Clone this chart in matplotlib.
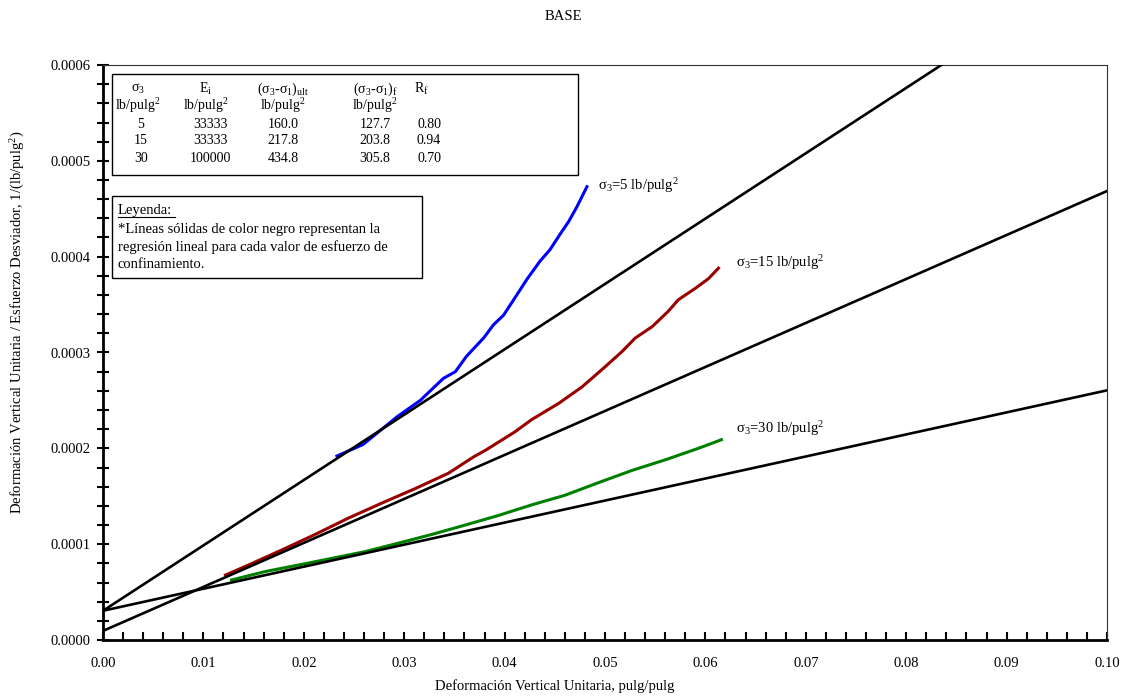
import numpy as np
import matplotlib
matplotlib.use('Agg')
import matplotlib.pyplot as plt
from matplotlib.patches import Rectangle
from matplotlib.lines import Line2D
from matplotlib.ticker import MultipleLocator, FormatStrFormatter

plt.rcParams['font.family'] = ['Liberation Serif', 'DejaVu Serif']
plt.rcParams['mathtext.fontset'] = 'custom'
plt.rcParams['mathtext.rm'] = 'Liberation Serif'
plt.rcParams['mathtext.it'] = 'Liberation Serif:italic'
plt.rcParams['font.size'] = 10.5

# ensayo sigma3 = 5
x5 = [0.0233, 0.0259, 0.0293, 0.0316, 0.0339, 0.0351, 0.0362, 0.0379, 0.0389,
      0.0399, 0.0409, 0.0422, 0.0435, 0.0445, 0.0455, 0.0464, 0.0472, 0.0482]
y5 = [0.000192, 0.000204, 0.000233, 0.000250, 0.000273, 0.000280, 0.000296,
      0.000315, 0.000329, 0.000339, 0.000355, 0.000376, 0.000395, 0.000407,
      0.000423, 0.000437, 0.000452, 0.000473]
# ensayo sigma3 = 15
x15 = [0.0122, 0.0145, 0.0178, 0.0211, 0.0244, 0.0278, 0.0311, 0.0344, 0.0369,
       0.0381, 0.0410, 0.0427, 0.0454, 0.0477, 0.0500, 0.0517, 0.0530, 0.0547,
       0.0563, 0.0573, 0.0590, 0.0603, 0.0613]
y15 = [0.0000678, 0.0000783, 0.0000939, 0.000110, 0.000127, 0.000143, 0.000158,
       0.000174, 0.000191, 0.000198, 0.000217, 0.000230, 0.000247, 0.000264,
       0.000285, 0.000301, 0.000315, 0.000327, 0.000343, 0.000355, 0.000367,
       0.000377, 0.000388]
# ensayo sigma3 = 30
x30 = [0.0128, 0.0161, 0.0195, 0.0228, 0.0261, 0.0294, 0.0327, 0.0361, 0.0394,
       0.0427, 0.0460, 0.0493, 0.0527, 0.0560, 0.0593, 0.0616]
y30 = [0.0000626, 0.0000713, 0.0000783, 0.0000852, 0.0000922, 0.000101,
       0.000110, 0.000120, 0.000130, 0.000141, 0.000151, 0.000164, 0.000177,
       0.000188, 0.000200, 0.000209]

# regresion lineal: y = a + b*x
reg_a = [3.05e-5, 0.95e-5, 3.05e-5]
reg_b = [0.00682, 0.00459, 0.00230]

curve_labels = [r'σ$_3$=5 lb/pulg$^2$', r'σ$_3$=15 lb/pulg$^2$', r'σ$_3$=30 lb/pulg$^2$']

table_rows = [
    ['5', '33333', '160.0', '127.7', '0.80'],
    ['15', '33333', '217.8', '203.8', '0.94'],
    ['30', '100000', '434.8', '305.8', '0.70'],
]

W, H = 1125, 698
fig = plt.figure(figsize=(W / 100, H / 100), dpi=100)
ax = fig.add_axes([103 / W, 1 - 640 / H, (1107 - 103) / W, (640 - 65) / H])

ax.plot(x5, y5, color='#0000ff', lw=2.2, zorder=3)
ax.plot(x15, y15, color='#990000', lw=2.2, zorder=3)
ax.plot(x30, y30, color='#008000', lw=2.2, zorder=3)

xr = np.array([0.0, 0.1])
for a, b in zip(reg_a, reg_b):
    ax.plot(xr, a + b * xr, color='black', lw=1.9, zorder=4)

ax.set_xlim(0, 0.1)
ax.set_ylim(0, 0.0006)
ax.xaxis.set_major_locator(MultipleLocator(0.01))
ax.xaxis.set_minor_locator(MultipleLocator(0.002))
ax.yaxis.set_major_locator(MultipleLocator(0.0001))
ax.yaxis.set_minor_locator(MultipleLocator(0.00002))
ax.xaxis.set_major_formatter(FormatStrFormatter('%.2f'))
ax.yaxis.set_major_formatter(FormatStrFormatter('%.4f'))
ax.tick_params(axis='x', which='both', direction='in', length=6, width=1.5, pad=12, labelsize=10.5)
ax.tick_params(axis='y', which='both', direction='inout', length=8, width=1.5, pad=5, labelsize=10.5)
for s in ['left', 'bottom']:
    ax.spines[s].set_linewidth(2)
for s in ['top', 'right']:
    ax.spines[s].set_linewidth(0.8)
    ax.spines[s].set_color('#333333')

# etiquetas de curvas
ax.text(0.0493, 0.000474, curve_labels[0], fontsize=10.5, va='center', ha='left')
ax.text(0.0630, 0.000394, curve_labels[1], fontsize=10.5, va='center', ha='left')
ax.text(0.0630, 0.000221, curve_labels[2], fontsize=10.5, va='center', ha='left')

fig.text(563 / W, 1 - 16 / H, 'BASE', ha='center', va='center', fontsize=10.5)
fig.text(555 / W, 1 - 686 / H, 'Deformación Vertical Unitaria, pulg/pulg',
         ha='center', va='center', fontsize=10.5)
fig.text(18 / W, 1 - 322 / H,
         r'Deformación Vertical Unitaria / Esfuerzo Desviador, 1/(lb/pulg$^2$)',
         ha='center', va='center', rotation=90, fontsize=10.5)

# tabla de parametros
def fx(px):
    return px / W

def fy(py):
    return 1 - py / H

fig.patches.append(Rectangle((fx(112), fy(175)), (578 - 112) / W, (175 - 74) / H,
                             transform=fig.transFigure, fill=False, ec='black', lw=1))
tfs = 10
col_x = [138, 206, 283, 375, 421]
headers = [r'σ$_3$', r'E$_\mathrm{i}$', r'(σ$_3$-σ$_1$)$_\mathrm{ult}$',
           r'(σ$_3$-σ$_1$)$_\mathrm{f}$', r'R$_\mathrm{f}$']
for cx, h in zip(col_x, headers):
    fig.text(fx(cx), fy(89), h, ha='center', va='center', fontsize=tfs)
for cx in col_x[:4]:
    fig.text(fx(cx), fy(106), r'lb/pulg$^2$', ha='center', va='center', fontsize=tfs)
val_x = [141, 210, 283, 375, 429]
for r, row in enumerate(table_rows):
    yy = 124 + r * 17
    for cx, v in zip(val_x, row):
        fig.text(fx(cx), fy(yy), v, ha='center', va='center', fontsize=tfs)

# leyenda
fig.patches.append(Rectangle((fx(112), fy(278)), (422 - 112) / W, (278 - 196) / H,
                             transform=fig.transFigure, fill=False, ec='black', lw=1))
fig.text(fx(118), fy(211), 'Leyenda:', ha='left', va='center', fontsize=10.5)
fig.lines.append(Line2D([fx(118), fx(175)], [fy(217), fy(217)],
                        transform=fig.transFigure, color='black', lw=0.8))
legend_lines = ['*Líneas sólidas de color negro representan la',
                'regresión lineal para cada valor de esfuerzo de',
                'confinamiento.']
for i, t in enumerate(legend_lines):
    fig.text(fx(118), fy(229 + i * 18), t, ha='left', va='center', fontsize=10.5)

fig.savefig('out.png', dpi=100)
